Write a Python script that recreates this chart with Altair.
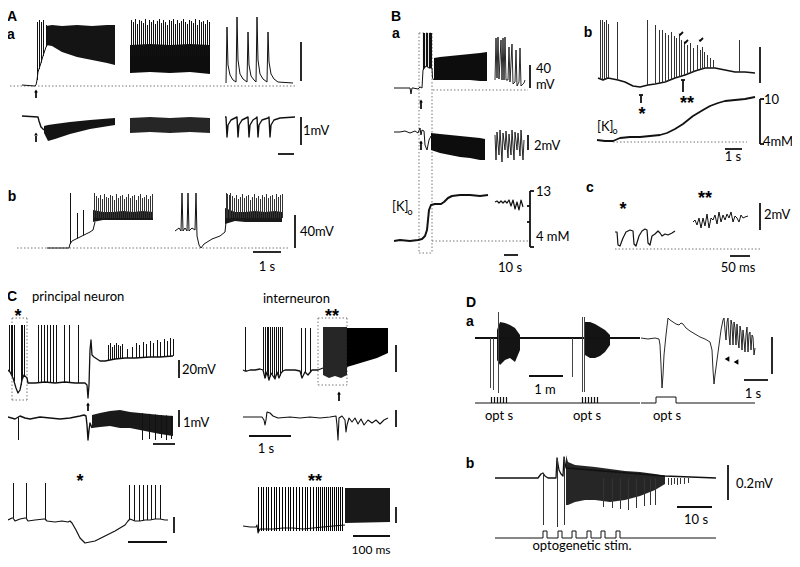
import altair as alt
import numpy as np
import pandas as pd

# ================= DATA (t = time offset along a trace, v = amplitude above that trace's baseline) =================
# --- A a : intracellular ---
Aa_in_t = [0, 13, 14, 15, 16, 18, 21, 24, 27]
Aa_in_v = [1, 0, 1, 6, 14, 20, 30, 39, 44]
Aa_in_spk_t = [15, 17, 19, 21, 24]
Aa_in_spk_hi = [64, 66, 64, 66, 61]
Aa_in_b1_t = [24, 30, 40, 55, 70, 85, 93]
Aa_in_b1_hi = [60, 61, 60, 61, 60, 61, 61]
Aa_in_b1_lo = [41, 40, 34, 29, 26, 23, 21]
Aa_in_b2_t = [108, 128, 148, 168, 188]
Aa_in_b2_hi = [41, 42, 41, 42, 41]
Aa_in_b2_lo = [13, 14, 13, 14, 12]
Aa_in_b2_spk_t = [109, 111, 113, 115, 117, 119, 121, 123, 125, 127, 129, 131, 133, 135, 137, 139, 141, 143, 145,
                  147, 149, 151, 153, 155, 157, 159, 161, 163, 165, 167, 169, 171, 173, 175, 177, 179, 181, 183,
                  185, 187]
Aa_in_b2_spk_hi = [66, 64, 67, 62, 66, 65, 63, 67, 61, 66, 64, 66, 62, 65, 67, 63, 66, 64, 61, 66, 65, 67, 62, 66,
                   63, 65, 67, 64, 62, 66, 65, 63, 67, 61, 66, 64, 65, 62, 66, 64]
Aa_in_tail_t = [204, 205, 206, 208, 211, 214, 215, 216, 218, 221, 225, 226, 227, 229, 232, 234, 235, 236, 238,
                241, 245, 246, 247, 249, 252, 256, 271]
Aa_in_tail_v = [3, 59, 21, 11, 6, 4, 69, 26, 12, 7, 4, 54, 21, 10, 6, 4, 69, 26, 12, 7, 4, 54, 24, 12, 7, 4, 3]
# --- A a : extracellular ---
Aa_ex_t = [0, 16, 17, 19, 22]
Aa_ex_v = [1, 0, -4, -10, -13]
Aa_ex_b1_t = [22, 26, 33, 48, 68, 93]
Aa_ex_b1_hi = [-9, -8, -7, -5, -3, -1]
Aa_ex_b1_lo = [-16, -24, -22, -17, -12, -8]
Aa_ex_b2_t = [108, 128, 148, 168, 188]
Aa_ex_b2_hi = [-1, 0, -1, 0, -1]
Aa_ex_b2_lo = [-16, -15, -16, -15, -16]
Aa_ex_tail_t = [203, 204, 205, 206, 209, 213, 215, 216, 217, 220, 224, 226, 227, 228, 231, 234, 235, 236, 237,
                240, 246, 247, 248, 249, 252, 258, 273]
Aa_ex_tail_v = [0, 0, -20, -8, -3, -1, 0, -20, -8, -3, -1, 0, -20, -8, -3, -1, 0, -20, -8, -3, -1, 0, -20, -8,
                -3, -1, 0]
# --- A b ---
Ab_t1 = [0, 22, 23, 25, 33, 43, 46, 48]
Ab_v1 = [0, 0, 4, 7, 11, 16, 18, 26]
Ab_spk_t = [23, 30, 36]
Ab_spk_hi = [55, 35, 38]
Ab_b1_t = [46, 56, 66, 76, 86, 96, 106]
Ab_b1_hi = [38, 36, 36, 37, 36, 37, 36]
Ab_b1_lo = [26, 28, 28, 28, 28, 28, 28]
Ab_b1_spk_t = [47, 49, 51, 53, 55, 57, 59, 61, 63, 65, 67, 69, 71, 73, 75, 77, 79, 81, 83, 85, 87, 89, 91, 93, 95,
               97, 99, 101, 103, 105]
Ab_b1_spk_hi = [55, 52, 50, 53, 49, 54, 51, 50, 53, 52, 48, 54, 50, 52, 53, 49, 51, 54, 50, 52, 53, 48, 52, 54,
                50, 51, 53, 49, 52, 54]
Ab_t2 = [128, 132, 134, 135, 136, 138, 140, 141, 142, 145, 148, 149, 150, 152, 154, 157, 165, 173, 178, 179]
Ab_v2 = [17, 20, 17, 55, 17, 20, 17, 55, 17, 20, 18, 55, 12, 3, 0, 4, 9, 12, 16, 26]
Ab_b2_t = [178, 188, 198, 208, 218, 228, 235]
Ab_b2_hi = [40, 36, 36, 37, 36, 37, 36]
Ab_b2_lo = [24, 27, 26, 26, 26, 26, 26]
Ab_b2_spk_t = [179, 180.5, 182, 183.5, 185, 187, 189, 191, 193, 195, 197, 199, 201, 203, 205, 207, 209, 211, 213,
               215, 217, 219, 221, 223, 225, 227, 229, 231, 233, 235]
Ab_b2_spk_hi = [55, 54, 53, 55, 52, 50, 53, 49, 51, 54, 50, 52, 53, 48, 51, 54, 50, 52, 49, 53, 51, 54, 50, 52,
                53, 49, 54, 51, 53, 54]
# --- B a ---
Ba_in_t = [-6, 0, 10, 11, 12, 13, 18, 20, 22, 23, 26, 29, 32, 32.5, 34]
Ba_in_v = [0, 0, 0, -6, 0, 0, -1, 1, 0, 18, 22, 20, 20, 10, 8]
Ba_in_spk_t = [23, 24.5, 26, 27.5, 29, 30.5, 31.5]
Ba_in_b_t = [34, 40, 50, 60, 70, 80, 87]
Ba_in_b_hi = [30, 31, 32, 33, 34, 35, 36]
Ba_in_b_lo = [8, 8, 8, 8, 8, 7, 7]
Ba_in_s_t = [95, 96, 97, 98, 99, 101, 102, 103, 104, 105, 106, 108, 109, 110, 112, 113, 115, 116, 117, 119, 120,
             121, 124, 125]
Ba_in_s_v = [8, 50, 10, 51, 9, 48, 8, 50, 8, 51, 8, 8, 41, 6, 44, 4, 6, 38, 2, 6, 40, 2, 5, 8]
Ba_ex_t = [-6, 0, 5, 10, 15, 18, 20, 21, 22, 24, 25, 27, 29, 31]
Ba_ex_v = [0, 0, 1, -1, 1, -1, 4, -3, 2, 1, -13, -18, -8, -4]
Ba_ex_b_t = [31, 40, 50, 60, 70, 80, 85]
Ba_ex_b_hi = [-1, -2, -3, -4, -5, -6, -7]
Ba_ex_b_lo = [-18, -21, -23, -25, -26, -28, -28]
Ba_ex_s_t = [95, 96, 97, 99, 100, 102, 103, 105, 106, 108, 109, 111, 112, 114, 115, 117, 118, 120, 121, 123, 124]
Ba_ex_s_v = [-3, -28, 0, -23, 2, -30, -1, -18, 1, -26, -2, -23, 2, -28, 0, -18, -1, -24, 2, -28, -8]
Ba_K_t = [-6, 0, 10, 18, 22, 25, 27, 28, 29, 31, 35, 41, 44, 48, 52, 60, 70, 80, 88]
Ba_K_v = [0, 1, 0, 1, 2, 5, 11, 21, 31, 36, 37, 37, 39, 43, 45, 46, 46, 45, 46]
Ba_K_s_t = [95, 97, 99, 101, 103, 105, 107, 109, 111, 113, 115, 117, 119, 121, 123]
Ba_K_s_v = [39, 40, 38, 40, 38, 40, 38, 41, 35, 41, 32, 39, 31, 41, 34]
# --- B b ---
Bb_t = [0, 5, 10, 15, 20, 27, 35, 42, 50, 57, 67, 77, 87, 97, 107, 117, 127, 137, 147, 157]
Bb_v = [0, -2, 0, -1, -2, -4, -8, -9, -7, -6, -4, 0, 3, 7, 10, 10, 8, 6, 6, 5]
Bb_spk_t = [2, 4, 6, 8, 10, 19, 49, 57, 61, 64, 67, 70, 73, 76, 78, 81, 83, 86, 89, 92, 95, 99, 102, 104, 106,
            109, 112, 115, 141]
Bb_spk_hi = [58, 58, 56, 58, 54, 56, 58, 53, 48, 48, 45, 43, 46, 42, 40, 43, 38, 36, 33, 35, 30, 33, 28, 31, 26,
             23, 20, 18, 38]
Bb_K_t = [0, 8, 16, 23, 33, 43, 53, 63, 70, 78, 86, 91, 96, 101, 106, 113, 121, 128, 138, 148, 158]
Bb_K_v = [2, 1, 1, 4, 5, 5, 6, 7, 9, 13, 18, 22, 26, 29, 32, 36, 39, 41, 42, 43, 45]
# --- B c ---
Bc1_t = [0, 2, 3, 5, 8, 11, 15, 18, 19, 21, 24, 27, 30, 32, 33, 35, 37, 40, 43, 45, 47, 50, 53, 57, 60]
Bc1_v = [17, 17, 4, 3, 11, 17, 19, 18, 5, 3, 13, 18, 20, 19, 6, 4, 13, 15, 18, 16, 13, 15, 14, 16, 18]
Bc2_t = [78, 80, 82, 84, 86, 88, 90, 92, 94, 96, 98, 100, 102, 104, 106, 108, 110, 112, 114, 116, 118, 120, 122,
         124, 126, 128, 130, 133]
Bc2_v = [27, 29, 24, 31, 21, 31, 23, 35, 21, 31, 29, 34, 25, 37, 27, 34, 29, 35, 31, 37, 27, 33, 31, 27, 34, 31,
         32, 33]
# --- C principal neuron ---
Cp_t = [0, 2, 5, 8, 10, 12, 14, 16, 19, 20, 27, 37, 47, 57, 67, 77, 79, 80, 81, 82, 83, 84, 86, 92, 97, 102, 107,
        117, 127, 142, 152, 165]
Cp_v = [13, 11, 5, -5, -10, -7, 3, 8, 5, 0, 0, 1, 0, 1, 0, 0, -2, -15, -2, 33, 43, 28, 26, 22, 22, 23, 24, 25, 25,
        26, 26, 27]
Cp_spk_t = [1, 3, 4.5, 6, 13, 14.5, 16, 30, 33, 36, 39, 42, 45, 48, 56, 61, 70,
            100, 102, 104, 106, 108, 110, 112, 114, 119, 124, 128, 131, 135, 138, 142, 145, 149, 152, 156, 159,
            162, 165]
Cp_spk_hi = [58, 58, 58, 58, 58, 58, 58, 58, 58, 58, 58, 58, 58, 58, 58, 58, 58,
             38, 40, 36, 38, 40, 38, 37, 39, 34, 36, 40, 38, 41, 39, 42, 40, 43, 41, 44, 42, 45, 44]
Cpe_t = [0, 7, 12, 17, 22, 32, 42, 52, 62, 72, 76, 78, 79, 80, 81, 82, 84]
Cpe_v = [1, -1, 2, 0, -1, 1, 0, -1, 0, 2, 3, 2, -7, -22, -12, -5, -10]
Cpe_b_t = [84, 92, 102, 112, 122, 132, 142, 152, 165]
Cpe_b_hi = [3, 5, 7, 8, 6, 5, 4, 3, 2]
Cpe_b_lo = [-10, -9, -8, -10, -10, -12, -14, -16, -18]
Cpe_dn_t = [10, 134, 141, 147, 153, 158, 163]
Cpe_dn_lo = [-22, -22, -21, -22, -20, -22, -21]
Cpz_t = [0, 4, 5, 7, 12, 17, 18, 20, 27, 36, 37, 39, 47, 54, 60, 62, 64, 68, 72, 77, 87, 97, 107, 117, 120, 122,
         127, 132, 137, 142, 147, 152, 157, 160]
Cpz_v = [0, 2, 2, -1, 1, 2, 2, -1, 0, 1, 1, -1, -2, -1, -2, -1, -3, -10, -18, -23, -21, -16, -11, -5, -1, 1, -1,
         -1, 0, 0, 1, 1, 0, 0]
Cpz_spk_t = [5, 18, 37, 121, 126, 131, 135, 139, 143, 147, 152]
Cpz_spk_hi = [37, 37, 37, 35, 35, 35, 35, 35, 35, 35, 35]
# --- C interneuron ---
Ci_t = [0, 2, 4, 7, 12, 17, 20, 22, 24, 26, 28, 30, 32, 34, 36, 38, 40, 42, 52, 57, 59, 62, 65, 69, 75, 80]
Ci_v = [0, -1, -1, 0, 0, 1, 0, -8, -2, -10, -3, -6, -9, -2, -8, -3, -1, 0, 0, -1, -8, -2, -5, 0, 0, 2]
Ci_spk_t = [2, 20, 22, 24, 25, 27, 29, 31, 33, 35, 37, 39, 58, 62, 67]
Ci_spk_hi = [43, 43, 43, 43, 43, 43, 43, 43, 43, 43, 43, 43, 42, 42, 42]
Ci_b1_t = [80, 86, 92, 98, 104]
Ci_b1_hi = [43, 43, 43, 43, 43]
Ci_b1_lo = [-5, -8, -6, -8, -5]
Ci_b2_t = [104, 114, 124, 134, 145]
Ci_b2_hi = [42, 42, 42, 42, 42]
Ci_b2_lo = [3, 6, 9, 12, 17]
Cie_t = [0, 7, 15, 19, 21, 22, 23, 24, 27, 30, 35, 47, 57, 67, 77, 87, 93, 94, 95, 96, 99, 102, 103, 104, 106, 109,
         112, 115, 118, 121, 125, 129, 133, 137, 141, 145]
Cie_v = [0, 0, 0, 0, -3, -8, -3, 5, 4, 1, -1, 0, -1, 0, -1, 0, 1, -8, -23, -1, 1, -3, -15, -8, -1, -5, -1, -7, -2,
         -8, -3, -6, -3, -7, -3, -1]
Ciz_t = [0, 7, 13, 14, 15, 17, 30, 40, 50, 60, 70, 80, 90, 102]
Ciz_v = [1, 0, 0, 2, -6, -2, -2, -1, -1, -2, -1, 0, 1, 2]
Ciz_spk_t = [15, 18, 20, 23, 25, 28, 31, 33, 36, 39, 42, 45, 47, 50, 53, 56, 59, 62, 64, 67, 70, 73, 75, 77, 79,
             81, 83, 85, 87, 89, 91, 93, 95, 97, 99]
Ciz_b_t = [102, 147]
Ciz_b_hi = [39, 39]
Ciz_b_lo = [4, 5]
# --- D a ---
Dal_spk = [(15, -50, 0), (18, -52, 0), (23, -55, 26), (97, -39, 0), (107, -54, 21), (109, -54, 21)]
Dal_b1_t = [22, 25, 30, 35, 40, 45]
Dal_b1_hi = [8, 16, 15, 13, 10, 3]
Dal_b1_lo = [-22, -27, -22, -20, -24, -12]
Dal_b2_t = [110, 115, 120, 125, 130, 135]
Dal_b2_hi = [16, 16, 14, 11, 8, 3]
Dal_b2_lo = [-17, -20, -20, -18, -14, -7]
Dal_stim_t = [16, 19, 22, 25, 28, 31, 107, 110, 113, 116, 119, 122]
Dar_t = [0, 7, 14, 18, 19, 20, 21, 22, 23, 25, 27, 29, 32, 35, 38, 40, 42, 45, 49, 54, 59, 64, 69, 71, 72, 73, 74,
         76, 78, 80, 82, 83, 84, 85, 86, 87, 88, 89, 90, 91, 92, 93, 94, 95, 96, 97, 98, 99, 100, 101, 102, 103,
         104, 105, 106, 107, 108, 109, 110, 111, 112, 113, 114]
Dar_v = [0, -1, 0, -1, -7, -27, -50, -37, -17, 3, 20, 18, 16, 14, 13, 15, 14, 10, 7, 4, 1, -1, -4, -12, -32, -46,
         -37, -22, -7, 8, 18, 20, 8, -2, 16, 20, 3, -7, 18, 13, -7, 16, 10, -7, 14, -2, -10, 12, 6, -12, 8, -2,
         -14, 3, 11, -14, 4, 6, -12, 3, 1, -17, -10]
Dar_stim_t = [0, 15, 15, 35, 35, 114]
Dar_stim_v = [0, 0, 6, 6, 0, 0]
# --- D b ---
Db_t = [0, 43, 46, 48, 50, 53, 61, 62, 64, 66, 68, 69, 71, 170, 221]
Db_v = [0, 0, 4, 5, 2, 0, 0, 20, 8, 4, 2, 21, 10, 2, 0]
Db_spk = [(48, -47, 5), (62, -49, 20), (69, -47, 21)]
Db_b_t = [71, 73, 80, 90, 100, 115, 130, 145, 160, 170]
Db_b_hi = [23, 16, 13, 12, 11, 9, 7, 6, 4, 2]
Db_b_lo = [-27, -27, -24, -22, -22, -24, -22, -18, -12, -6]
Db_dn_t = [108, 117, 125, 133, 141, 149, 155, 160, 173, 176, 179, 182, 185, 189, 193]
Db_dn_lo = [-29, -30, -31, -32, -30, -28, -27, -27, -7, -7, -6, -7, -6, -6, -5]
Db_stim_on = [48, 63, 77, 92, 106, 121]

# ================= LAYOUT (where each trace's start / baseline sits on the page) =================
O = {
    "Aa_in": (22, 86), "Aa_ex": (22, 117), "Ab": (47, 248),
    "Ba_in": (400, 88), "Ba_ex": (400, 132), "Ba_K": (400, 241),
    "Bb": (598, 78), "Bb_K": (597, 142), "Bc": (615, 249),
    "Cp": (8, 383), "Cpe": (8, 418), "Cpz": (8, 520),
    "Ci": (243, 370), "Cie": (243, 417), "Ciz": (243, 527),
    "Dal": (475, 338), "Dar": (641, 338), "Dal_stim": (475, 403), "Dar_stim": (641, 403),
    "Db": (495, 478), "Db_stim": (495, 538),
}
PIX = 0.5  # centre thin spike strokes on pixel centres

XS = alt.Scale(domain=[8, 792], nice=False, zero=False)
YS = alt.Scale(domain=[8, 559], nice=False, zero=False, reverse=True)
X = alt.X("x:Q", scale=XS, axis=None)
Y = alt.Y("y:Q", scale=YS, axis=None)

lines, rules, dots, pts = [], [], [], []
area_layers = []
cnt = [0]


def line(key, t, v, w=1.0, c="#111"):
    x0, y0 = O[key]
    cnt[0] += 1
    for i, (a, b) in enumerate(zip(t, v)):
        lines.append(dict(seg=f"s{cnt[0]}", i=i, x=x0 + a, y=y0 - b, w=w, c=c))


def area(key, t, hi, lo, op=0.92):
    x0, y0 = O[key]
    d = pd.DataFrame({"x": [x0 + a for a in t], "yh": [y0 - h for h in hi], "yl": [y0 - l for l in lo]})
    area_layers.append(alt.Chart(d).mark_area(color="black", opacity=op).encode(
        x=X, y=alt.Y("yh:Q", scale=YS, axis=None, stack=None), y2=alt.Y2("yl")))


def spikes(key, t, hi, lo, w=1.0, c="#111"):
    x0, y0 = O[key]
    for a, h, l in zip(t, hi, lo):
        xx = int(x0 + a) + PIX
        rules.append(dict(x=xx, x2=xx, y=y0 - h, y2=y0 - l, w=w, c=c))


def base(t, bt, bv):
    return list(np.interp(t, bt, bv))


# --- A ---
line("Aa_in", Aa_in_t, Aa_in_v)
spikes("Aa_in", Aa_in_spk_t, Aa_in_spk_hi, base(Aa_in_spk_t, Aa_in_t, Aa_in_v))
area("Aa_in", Aa_in_b1_t, Aa_in_b1_hi, Aa_in_b1_lo)
area("Aa_in", Aa_in_b2_t, Aa_in_b2_hi, Aa_in_b2_lo, 0.95)
spikes("Aa_in", Aa_in_b2_spk_t, Aa_in_b2_spk_hi, [30] * len(Aa_in_b2_spk_t))
line("Aa_in", Aa_in_tail_t, Aa_in_tail_v)
line("Aa_ex", Aa_ex_t, Aa_ex_v, 1.4)
area("Aa_ex", Aa_ex_b1_t, Aa_ex_b1_hi, Aa_ex_b1_lo)
area("Aa_ex", Aa_ex_b2_t, Aa_ex_b2_hi, Aa_ex_b2_lo, 0.85)
line("Aa_ex", Aa_ex_tail_t, Aa_ex_tail_v, 1.4)
line("Ab", Ab_t1, Ab_v1)
spikes("Ab", Ab_spk_t, Ab_spk_hi, base(Ab_spk_t, Ab_t1, Ab_v1))
area("Ab", Ab_b1_t, Ab_b1_hi, Ab_b1_lo, 0.9)
spikes("Ab", Ab_b1_spk_t, Ab_b1_spk_hi, [30] * len(Ab_b1_spk_t), 1.0, "#333")
line("Ab", Ab_t2, Ab_v2)
area("Ab", Ab_b2_t, Ab_b2_hi, Ab_b2_lo, 0.9)
spikes("Ab", Ab_b2_spk_t, Ab_b2_spk_hi, [30] * len(Ab_b2_spk_t), 1.0, "#333")
# --- B ---
line("Ba_in", Ba_in_t, Ba_in_v)
spikes("Ba_in", Ba_in_spk_t, [55] * len(Ba_in_spk_t), base(Ba_in_spk_t, Ba_in_t, Ba_in_v), 1.1)
area("Ba_in", Ba_in_b_t, Ba_in_b_hi, Ba_in_b_lo, 0.95)
line("Ba_in", Ba_in_s_t, Ba_in_s_v, 0.9)
line("Ba_ex", Ba_ex_t, Ba_ex_v)
area("Ba_ex", Ba_ex_b_t, Ba_ex_b_hi, Ba_ex_b_lo, 0.95)
line("Ba_ex", Ba_ex_s_t, Ba_ex_s_v, 0.9)
line("Ba_K", Ba_K_t, Ba_K_v, 2.0)
line("Ba_K", Ba_K_s_t, Ba_K_s_v, 1.2)
line("Bb", Bb_t, Bb_v, 1.5)
spikes("Bb", Bb_spk_t, Bb_spk_hi, base(Bb_spk_t, Bb_t, Bb_v), 1.0, "#333")
line("Bb_K", Bb_K_t, Bb_K_v, 1.8)
line("Bc", Bc1_t, Bc1_v, 1.2)
line("Bc", Bc2_t, Bc2_v, 1.0)
# --- C ---
line("Cp", Cp_t, Cp_v, 1.3)
spikes("Cp", Cp_spk_t, Cp_spk_hi, base(Cp_spk_t, Cp_t, Cp_v))
line("Cpe", Cpe_t, Cpe_v, 1.4)
area("Cpe", Cpe_b_t, Cpe_b_hi, Cpe_b_lo, 0.9)
spikes("Cpe", Cpe_dn_t, base(Cpe_dn_t, Cpe_t + Cpe_b_t[1:], Cpe_v + Cpe_b_hi[1:]), Cpe_dn_lo)
line("Cpz", Cpz_t, Cpz_v, 1.2)
spikes("Cpz", Cpz_spk_t, Cpz_spk_hi, base(Cpz_spk_t, Cpz_t, Cpz_v))
line("Ci", Ci_t, Ci_v, 1.3)
spikes("Ci", Ci_spk_t, Ci_spk_hi, base(Ci_spk_t, Ci_t, Ci_v))
area("Ci", Ci_b1_t, Ci_b1_hi, Ci_b1_lo, 0.85)
area("Ci", Ci_b2_t, Ci_b2_hi, Ci_b2_lo, 1.0)
line("Cie", Cie_t, Cie_v, 1.1)
line("Ciz", Ciz_t, Ciz_v, 1.1)
spikes("Ciz", Ciz_spk_t, [40] * len(Ciz_spk_t), [-4] * len(Ciz_spk_t), 1.0, "#000")
area("Ciz", Ciz_b_t, Ciz_b_hi, Ciz_b_lo, 0.9)
# --- D ---
line("Dal", [0, 165], [0, 0], 2.0)
spikes("Dal", [s[0] for s in Dal_spk], [s[2] for s in Dal_spk], [s[1] for s in Dal_spk], 1.0, "#444")
area("Dal", Dal_b1_t, Dal_b1_hi, Dal_b1_lo)
area("Dal", Dal_b2_t, Dal_b2_hi, Dal_b2_lo)
line("Dal_stim", [0, 165], [0, 0], 1.0)
spikes("Dal_stim", Dal_stim_t, [6] * len(Dal_stim_t), [0] * len(Dal_stim_t), 1.2)
line("Dar", Dar_t, Dar_v, 0.9)
line("Dar_stim", Dar_stim_t, Dar_stim_v, 1.0)
line("Db", Db_t, Db_v, 1.3)
spikes("Db", [s[0] for s in Db_spk], [s[2] for s in Db_spk], [s[1] for s in Db_spk], 1.0, "#333")
area("Db", Db_b_t, Db_b_hi, Db_b_lo, 0.85)
spikes("Db", Db_dn_t, [0] * len(Db_dn_t), Db_dn_lo, 1.0, "#333")
st_t, st_v = [0], [0]
for on in Db_stim_on:
    st_t += [on, on, on + 4, on + 4]
    st_v += [0, 7, 7, 0]
st_t.append(221)
st_v.append(0)
line("Db_stim", st_t, st_v, 1.0)

# ---- scale bars, axes, markers (layout) ----
BARS = [(301, 42, 301, 81), (301, 117, 301, 145), (278, 154, 294, 154),
        (295, 215, 295, 248), (253, 252, 281, 252),
        (530, 65, 530, 88), (528, 135, 528, 150), (504, 255, 518, 255),
        (530, 191, 530, 247), (530, 191, 534, 191), (530, 247, 534, 247), (527, 206, 530, 206), (527, 222, 530, 222),
        (760, 47, 760, 83), (760, 99, 760, 144), (760, 99, 764, 99), (760, 144, 764, 144), (725, 149, 742, 149),
        (760, 203, 760, 230), (730, 256, 750, 256),
        (641, 95, 641, 103), (639, 95, 643, 95), (683, 80, 683, 92), (681, 80, 685, 80),
        (179, 360, 179, 378), (179, 410, 179, 427), (153, 444, 175, 444),
        (396, 345, 396, 372), (396, 410, 396, 427), (249, 436, 291, 436),
        (174, 517, 174, 533), (128, 542, 167, 542), (396, 507, 396, 523), (353, 536, 390, 536),
        (529, 376, 563, 376), (772, 337, 772, 374), (744, 380, 768, 380),
        (728, 465, 728, 500), (677, 507, 712, 507),
        (36, 92, 36, 98), (36, 136, 36, 142), (421, 102, 421, 109), (421, 143, 421, 150),
        (88, 405, 88, 411), (339, 394, 339, 401),
        (683, 32, 680, 35), (688, 40, 685, 43), (703, 38, 700, 41)]
for x1, y1, x2, y2 in BARS:
    rules.append(dict(x=x1, x2=x2, y=y1, y2=y2, w=1.8, c="#111"))
ARROWHEADS = [(36, 91, "triangle-up", 14), (36, 134, "triangle-up", 14), (421, 101, "triangle-up", 14),
              (421, 142, "triangle-up", 14), (88, 404, "triangle-up", 14), (339, 393, "triangle-up", 14),
              (727, 359, "triangle-left", 30), (736, 362, "triangle-left", 30),
              (680, 35, "triangle-down", 8), (685, 43, "triangle-down", 8), (700, 41, "triangle-down", 8)]
for x, y, sh, s in ARROWHEADS:
    pts.append(dict(x=x, y=y, shape=sh, s=s))

DOTS = [(10, 86, 295, 86), (17, 248, 290, 248), (433, 90, 528, 90), (432, 241, 528, 241),
        (419, 33, 432, 33), (419, 253, 432, 253), (419, 33, 419, 253), (432, 33, 432, 253),
        (613, 142, 747, 142), (615, 249, 760, 249),
        (12, 318, 27, 318), (12, 400, 27, 400), (12, 318, 12, 400), (27, 318, 27, 400),
        (318, 318, 347, 318), (318, 385, 347, 385), (318, 318, 318, 385), (347, 318, 347, 385)]
for x1, y1, x2, y2 in DOTS:
    dots.append(dict(x=x1, x2=x2, y=y1, y2=y2))

BOLD = [("A", 12, 17), ("a", 11, 35), ("b", 12, 197), ("B", 396, 17), ("a", 396, 34), ("b", 588, 33),
        ("c", 590, 188), ("C", 12, 297), ("D", 471, 303), ("a", 470, 322), ("b", 470, 464)]
TEXT = [("1mV", 303, 131, "left"), ("40mV", 300, 232, "left"), ("1 s", 267, 267, "middle"),
        ("40", 536, 69, "left"), ("mV", 536, 85, "left"), ("2mV", 534, 146, "left"),
        ("13", 536, 192, "left"), ("4 mM", 536, 237, "left"), ("10 s", 510, 268, "middle"),
        ("[K]", 392, 207, "left"), ("10", 764, 100, "left"), ("4mM", 763, 142, "left"),
        ("1 s", 733, 157, "middle"), ("[K]", 597, 127, "left"), ("2mV", 764, 215, "left"),
        ("50 ms", 738, 268, "middle"),
        ("principal neuron", 32, 297, "left"), ("interneuron", 263, 299, "left"),
        ("20mV", 182, 370, "left"), ("1mV", 183, 423, "left"), ("1 s", 266, 449, "middle"),
        ("1 m", 545, 390, "middle"), ("opt s", 499, 416, "middle"), ("opt s", 587, 416, "middle"),
        ("opt s", 667, 416, "middle"), ("1 s", 753, 394, "middle"),
        ("0.2mV", 736, 484, "left"), ("10  s", 696, 520, "middle"), ("optogenetic stim.", 582, 546, "middle")]
TEXT_SMALL = [("100 ms", 371, 550)]
SUB = [("o", 410, 212), ("o", 615, 131)]
STARS = [("*", 18, 317), ("**", 332, 317), ("*", 80, 482), ("**", 315, 482),
         ("*", 642, 115), ("**", 687, 104), ("*", 623, 210), ("**", 705, 199)]

# ================= CHART =================
df_l = pd.DataFrame(lines)
df_r = pd.DataFrame(rules)
df_d = pd.DataFrame(dots)
df_p = pd.DataFrame(pts)

line_layer = alt.Chart(df_l).mark_line(strokeJoin="round").encode(
    x=X, y=Y, detail="seg:N", order="i:Q",
    strokeWidth=alt.StrokeWidth("w:Q", scale=None), color=alt.Color("c:N", scale=None))
rule_layer = alt.Chart(df_r).mark_rule().encode(
    x=X, y=Y, x2="x2:Q", y2="y2:Q",
    strokeWidth=alt.StrokeWidth("w:Q", scale=None), color=alt.Color("c:N", scale=None))
dot_layer = alt.Chart(df_d).mark_rule(strokeDash=[1.5, 2], color="#777", strokeWidth=1).encode(
    x=X, y=Y, x2="x2:Q", y2="y2:Q")
pt_layer = alt.Chart(df_p).mark_point(filled=True, color="black", opacity=1).encode(
    x=X, y=Y, shape=alt.Shape("shape:N", scale=None), size=alt.Size("s:Q", scale=None))

layers = [dot_layer] + area_layers + [line_layer, rule_layer, pt_layer]

df_b = pd.DataFrame(BOLD, columns=["t", "x", "y"])
layers.append(alt.Chart(df_b).mark_text(font="Liberation Sans", fontWeight="bold", fontSize=14,
                                        baseline="middle", align="center", color="black").encode(
    x=X, y=Y, text="t:N"))
for al in ["left", "middle"]:
    d = pd.DataFrame([r for r in TEXT if r[3] == al], columns=["t", "x", "y", "al"])
    layers.append(alt.Chart(d).mark_text(font="Lato", fontSize=13, baseline="middle",
                                         align="left" if al == "left" else "center", color="black").encode(
        x=X, y=Y, text="t:N"))
layers.append(alt.Chart(pd.DataFrame(TEXT_SMALL, columns=["t", "x", "y"])).mark_text(
    font="Lato", fontSize=12, baseline="middle", align="center", color="black").encode(x=X, y=Y, text="t:N"))
layers.append(alt.Chart(pd.DataFrame(SUB, columns=["t", "x", "y"])).mark_text(
    font="Lato", fontSize=9, baseline="middle", align="center", color="black").encode(x=X, y=Y, text="t:N"))
layers.append(alt.Chart(pd.DataFrame(STARS, columns=["t", "x", "y"])).mark_text(
    font="Liberation Sans", fontSize=18, fontWeight="bold", baseline="middle", align="center",
    color="black").encode(x=X, y=Y, text="t:N"))

chart = alt.layer(*layers).properties(
    width=784, height=551, padding=0, autosize=alt.AutoSizeParams(type="none"),
    background="white").configure_view(stroke=None)

chart.save("out.html", embed_options={"renderer": "svg", "actions": False})
